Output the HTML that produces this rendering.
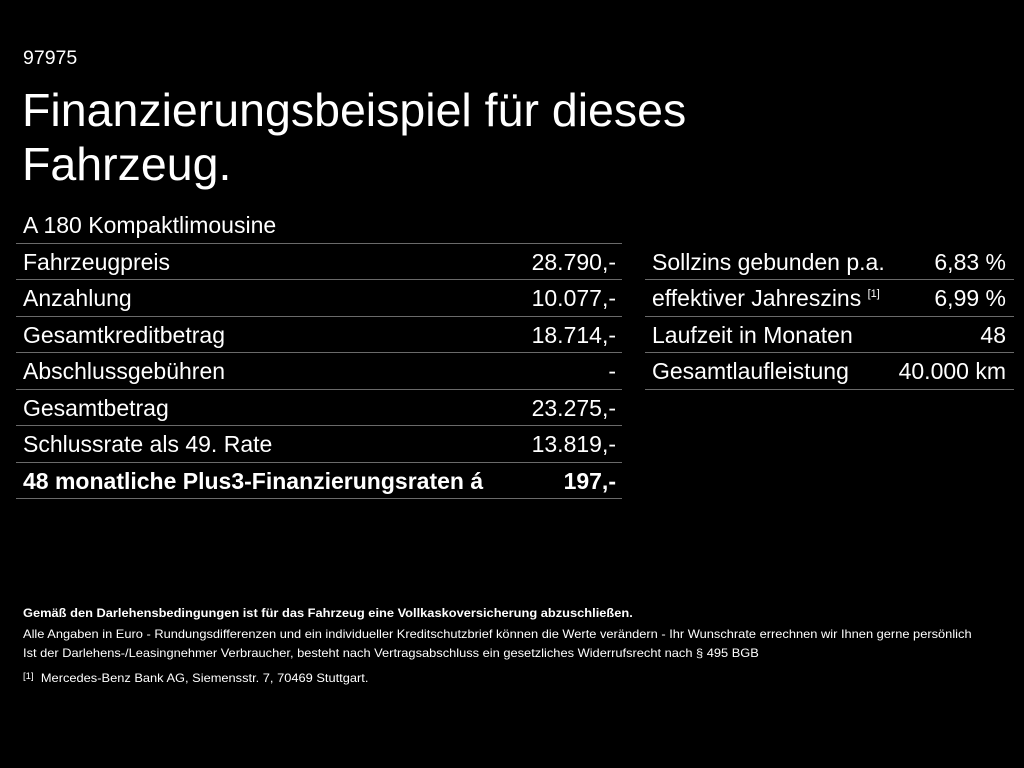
<!DOCTYPE html>
<html><head><meta charset="utf-8"><style>
body{margin:0;width:1024px;height:768px;background:#000;color:#fff;font-family:"Liberation Sans",sans-serif;position:relative;overflow:hidden}
.a{position:absolute;white-space:nowrap}
.ln{position:absolute;height:1px;background:#6a6a6a}
.r{font-size:23px;line-height:36px}
.v{text-align:right}
.sup{font-size:11px;position:relative;top:-9px}
.f{font-size:12px;transform:scaleX(1.07);transform-origin:left top}
</style></head><body>
<div class="a" style="left:23px;top:47px;font-size:19.5px">97975</div>
<div class="a" style="left:22px;top:83px;font-size:46.5px;line-height:54px">Finanzierungsbeispiel für dieses<br>Fahrzeug.</div>
<div class="a r" style="left:23px;top:207px">A 180 Kompaktlimousine</div>

<div class="ln" style="left:16px;width:606px;top:243px"></div>
<div class="ln" style="left:16px;width:606px;top:279px"></div>
<div class="ln" style="left:16px;width:606px;top:316px"></div>
<div class="ln" style="left:16px;width:606px;top:352px"></div>
<div class="ln" style="left:16px;width:606px;top:389px"></div>
<div class="ln" style="left:16px;width:606px;top:425px"></div>
<div class="ln" style="left:16px;width:606px;top:462px"></div>
<div class="ln" style="left:16px;width:606px;top:498px"></div>

<div class="ln" style="left:645px;width:369px;top:279px"></div>
<div class="ln" style="left:645px;width:369px;top:316px"></div>
<div class="ln" style="left:645px;width:369px;top:352px"></div>
<div class="ln" style="left:645px;width:369px;top:389px"></div>

<div class="a r" style="left:23px;top:244px">Fahrzeugpreis</div>
<div class="a r" style="left:23px;top:280px">Anzahlung</div>
<div class="a r" style="left:23px;top:317px">Gesamtkreditbetrag</div>
<div class="a r" style="left:23px;top:353px">Abschlussgebühren</div>
<div class="a r" style="left:23px;top:390px">Gesamtbetrag</div>
<div class="a r" style="left:23px;top:426px">Schlussrate als 49. Rate</div>
<div class="a r" style="left:23px;top:463px;font-weight:bold;font-size:23px">48 monatliche Plus3-Finanzierungsraten á</div>

<div class="a r v" style="right:408px;top:244px">28.790,-</div>
<div class="a r v" style="right:408px;top:280px">10.077,-</div>
<div class="a r v" style="right:408px;top:317px">18.714,-</div>
<div class="a r v" style="right:408px;top:353px">-</div>
<div class="a r v" style="right:408px;top:390px">23.275,-</div>
<div class="a r v" style="right:408px;top:426px">13.819,-</div>
<div class="a r v" style="right:408px;top:463px;font-weight:bold">197,-</div>

<div class="a r" style="left:652px;top:244px">Sollzins gebunden p.a.</div>
<div class="a r" style="left:652px;top:280px">effektiver Jahreszins <span class="sup">[1]</span></div>
<div class="a r" style="left:652px;top:317px">Laufzeit in Monaten</div>
<div class="a r" style="left:652px;top:353px">Gesamtlaufleistung</div>
<div class="a r v" style="right:18px;top:244px">6,83 %</div>
<div class="a r v" style="right:18px;top:280px">6,99 %</div>
<div class="a r v" style="right:18px;top:317px">48</div>
<div class="a r v" style="right:18px;top:353px">40.000 km</div>

<div class="a f" style="left:23px;top:606px;font-weight:bold">Gemäß den Darlehensbedingungen ist für das Fahrzeug eine Vollkaskoversicherung abzuschließen.</div>
<div class="a f" style="left:23px;top:627px">Alle Angaben in Euro - Rundungsdifferenzen und ein individueller Kreditschutzbrief können die Werte verändern - Ihr Wunschrate errechnen wir Ihnen gerne persönlich</div>
<div class="a f" style="left:23px;top:646px">Ist der Darlehens-/Leasingnehmer Verbraucher, besteht nach Vertragsabschluss ein gesetzliches Widerrufsrecht nach § 495 BGB</div>
<div class="a f" style="left:23px;top:671px"><span style="font-size:9px;position:relative;top:-3px">[1]</span>&nbsp; Mercedes-Benz Bank AG, Siemensstr. 7, 70469 Stuttgart.</div>
</body></html>
